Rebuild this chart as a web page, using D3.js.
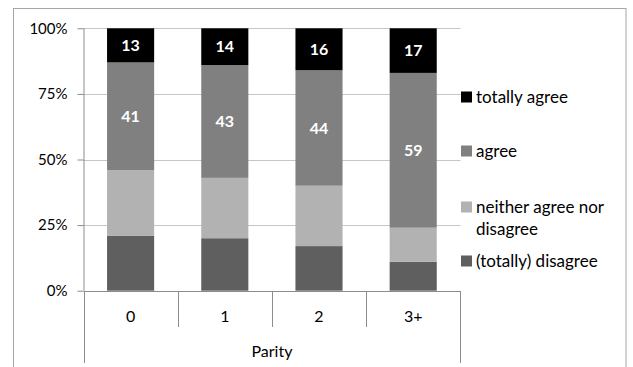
<!DOCTYPE html>
<html>
<head>
<meta charset="utf-8">
<script src="https://cdn.jsdelivr.net/npm/d3@7"></script>
<style>
  html, body { margin: 0; padding: 0; background: #fff; }
  svg { display: block; font-family: Lato, "Liberation Sans", sans-serif; }
</style>
</head>
<body>
<svg id="chart" width="633" height="367"></svg>
<script>
// Parity groups and the share (%) of each answer
const categories = ["0", "1", "2", "3+"];
const disagree     = [21, 20, 17, 11];
const neither      = [25, 23, 23, 13];
const agree        = [41, 43, 44, 59];
const totallyAgree = [13, 14, 16, 17];

const seriesNames = ["(totally) disagree", "neither agree nor disagree", "agree", "totally agree"];
const seriesColors = ["#5f5f5f", "#b2b2b2", "#808080", "#000000"];
const labelledSeries = ["agree", "totally agree"];
const yTicks = [0, 25, 50, 75, 100];
const axisTitle = "Parity";

const rows = categories.map((c, i) => ({
  cat: c,
  "(totally) disagree": disagree[i],
  "neither agree nor disagree": neither[i],
  "agree": agree[i],
  "totally agree": totallyAgree[i]
}));

const svg = d3.select("#chart");

// outer chart frame
svg.append("rect")
  .attr("x", 13.5).attr("y", 8.5)
  .attr("width", 612.5).attr("height", 370)
  .attr("fill", "none").attr("stroke", "#a6a6a6").attr("stroke-width", 1);

const plotLeft = 83.5, plotRight = 460.3, plotTop = 28.3, plotBottom = 290.7;

const x = d3.scaleBand().domain(categories).range([plotLeft, plotRight])
  .paddingInner(0.5).paddingOuter(0.25);
const y = d3.scaleLinear().domain([0, 100]).range([plotBottom, plotTop]);

// dotted gridlines
svg.append("g").selectAll("line")
  .data(yTicks.filter(t => t > 0))
  .join("line")
  .attr("x1", plotLeft).attr("x2", plotRight)
  .attr("y1", d => Math.round(y(d)) + 0.5).attr("y2", d => Math.round(y(d)) + 0.5)
  .attr("stroke", "#8c8c8c").attr("stroke-width", 1)
  .attr("stroke-dasharray", "1,1");

// stacked bars
const stack = d3.stack().keys(seriesNames);
const layers = stack(rows);
const bw = x.bandwidth();

const layerG = svg.append("g").selectAll("g")
  .data(layers)
  .join("g")
  .attr("fill", (d, i) => seriesColors[i]);

layerG.selectAll("rect")
  .data(d => d)
  .join("rect")
  .attr("x", d => x(d.data.cat))
  .attr("width", bw)
  .attr("y", d => y(d[1]))
  .attr("height", d => y(d[0]) - y(d[1]));

// value labels on the upper two segments
layers.filter(l => labelledSeries.includes(l.key)).forEach(l => {
  svg.append("g").selectAll("text")
    .data(l)
    .join("text")
    .attr("x", d => x(d.data.cat) + bw / 2)
    .attr("y", d => (y(d[0]) + y(d[1])) / 2)
    .attr("dy", "0.36em")
    .attr("text-anchor", "middle")
    .attr("fill", "#fff")
    .attr("font-weight", "bold")
    .attr("font-size", 16)
    .text(d => d.data[l.key]);
});

// y axis
const yAxis = d3.axisLeft(y).tickValues(yTicks).tickFormat(d => d + "%")
  .tickSize(6).tickPadding(10);
const yg = svg.append("g").attr("transform", `translate(${plotLeft},0)`).call(yAxis);
yg.select(".domain").attr("stroke", "#8c8c8c").attr("d", `M0.5,${plotTop}V${plotBottom}`);
yg.selectAll(".tick line").attr("stroke", "#8c8c8c");
yg.selectAll(".tick text").attr("font-size", 15).attr("fill", "#000")
  .attr("font-family", "Lato, 'Liberation Sans', sans-serif");

// category axis with separators
const xg = svg.append("g");
xg.append("line")
  .attr("x1", plotLeft).attr("x2", plotRight)
  .attr("y1", Math.round(plotBottom) + 0.5).attr("y2", Math.round(plotBottom) + 0.5)
  .attr("stroke", "#8c8c8c");
const step = x.step();
const bounds = [plotLeft]
  .concat(categories.slice(1).map(c => x(c) - step * x.paddingInner() / 2))
  .concat([plotRight]);
xg.selectAll("line.sep")
  .data(bounds)
  .join("line")
  .attr("class", "sep")
  .attr("x1", d => Math.round(d) + 0.5).attr("x2", d => Math.round(d) + 0.5)
  .attr("y1", Math.round(plotBottom))
  .attr("y2", (d, i) => (i === 0 || i === bounds.length - 1) ? 363 : 327)
  .attr("stroke", "#8c8c8c");

xg.selectAll("text.cat")
  .data(categories)
  .join("text")
  .attr("class", "cat")
  .attr("x", d => x(d) + bw / 2)
  .attr("y", 316)
  .attr("dy", "0.36em")
  .attr("text-anchor", "middle")
  .attr("font-size", 16)
  .text(d => d);

xg.append("text")
  .attr("x", (plotLeft + plotRight) / 2)
  .attr("y", 351)
  .attr("dy", "0.36em")
  .attr("text-anchor", "middle")
  .attr("font-size", 16)
  .text(axisTitle);

// legend
const legendItems = [
  { name: "totally agree", lines: ["totally agree"], y: 97 },
  { name: "agree", lines: ["agree"], y: 151 },
  { name: "neither agree nor disagree", lines: ["neither agree nor", "disagree"], y: 207 },
  { name: "(totally) disagree", lines: ["(totally) disagree"], y: 261 }
];
const lg = svg.append("g").selectAll("g")
  .data(legendItems)
  .join("g");
lg.append("rect")
  .attr("x", 461).attr("width", 11).attr("height", 11)
  .attr("y", d => d.y - 5.5)
  .attr("fill", d => seriesColors[seriesNames.indexOf(d.name)]);
lg.each(function(d) {
  const t = d3.select(this).append("text")
    .attr("x", 476).attr("y", d.y)
    .attr("font-size", 17);
  d.lines.forEach((ln, i) => {
    t.append("tspan").attr("x", 476).attr("dy", i === 0 ? "0.36em" : "21.5").text(ln);
  });
});
</script>
</body>
</html>
